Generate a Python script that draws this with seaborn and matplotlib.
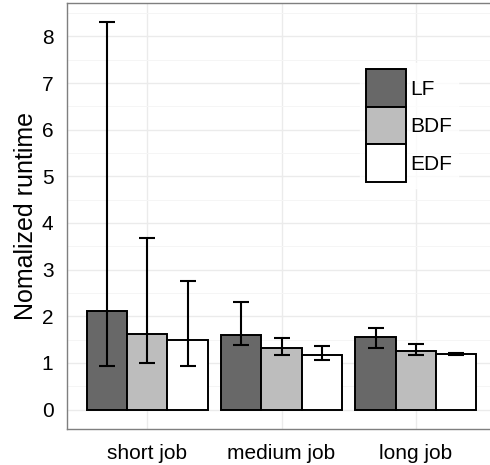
import pandas as pd
import seaborn as sns
import matplotlib.pyplot as plt
from matplotlib.patches import Patch
from matplotlib.ticker import MultipleLocator

# valores
jobs = ['short job', 'medium job', 'long job']
policies = ['LF', 'BDF', 'EDF']
lf_mean = [2.11, 1.61, 1.55]
bdf_mean = [1.63, 1.33, 1.25]
edf_mean = [1.50, 1.17, 1.19]
lf_low = [0.93, 1.38, 1.33]
lf_high = [8.31, 2.31, 1.76]
bdf_low = [0.99, 1.18, 1.18]
bdf_high = [3.67, 1.53, 1.40]
edf_low = [0.93, 1.06, 1.17]
edf_high = [2.75, 1.36, 1.21]
cores = ['#686868', '#bdbdbd', '#ffffff']

means = [lf_mean, bdf_mean, edf_mean]
lows = [lf_low, bdf_low, edf_low]
highs = [lf_high, bdf_high, edf_high]

df = pd.DataFrame({
    'job': jobs * 3,
    'policy': [p for p in policies for _ in jobs],
    'runtime': lf_mean + bdf_mean + edf_mean,
})

sns.set_style('white')
plt.rcParams['font.family'] = ['Liberation Sans', 'DejaVu Sans']
plt.rcParams['text.color'] = 'black'
plt.rcParams['axes.labelcolor'] = 'black'

fig = plt.figure(figsize=(4.9, 4.65), dpi=100)
ax = fig.add_axes([0.136, 0.0774, 0.877, 0.9172])

sns.barplot(data=df, x='job', y='runtime', hue='policy', order=jobs,
            hue_order=policies, palette=cores, saturation=1, width=0.9,
            edgecolor='black', linewidth=1.4, errorbar=None, legend=False,
            ax=ax, zorder=2)

# barras de erro a partir da posicao das barras
for cont, m, lo, hi in zip(ax.containers, means, lows, highs):
    xs = [b.get_x() + b.get_width() / 2 for b in cont]
    err = [[mv - l for mv, l in zip(m, lo)], [h - mv for mv, h in zip(m, hi)]]
    ax.errorbar(xs, m, yerr=err, fmt='none', ecolor='black', elinewidth=1.5,
                capsize=5.5, capthick=1.5, zorder=3)

ax.set_xlim(-0.6, 2.6)
ax.set_ylim(-0.4155, 8.7255)
ax.set_yticks(range(0, 9))
ax.yaxis.set_minor_locator(MultipleLocator(0.5))
ax.set_axisbelow(True)
ax.grid(True, which='major', color='#ebebeb', linewidth=1.0, zorder=0)
ax.grid(True, which='minor', axis='y', color='#f5f5f5', linewidth=0.7, zorder=0)

for s in ax.spines.values():
    s.set_color('#7f7f7f')
    s.set_linewidth(1.0)

ax.tick_params(which='major', length=5, width=1.0, color='#333333',
               labelsize=15, labelcolor='black')
ax.tick_params(axis='x', pad=5.5)
ax.tick_params(axis='y', pad=4.5)
ax.tick_params(which='minor', length=0)
ax.set_xlabel('')
ax.set_ylabel('Nomalized runtime', fontsize=18, labelpad=3, color='black')

handles = [Patch(facecolor=c, edgecolor='black', linewidth=1.4) for c in cores]
leg = ax.legend(handles, policies, loc='upper left',
                bbox_to_anchor=(0.735, 0.864), bbox_transform=fig.transFigure,
                fontsize=15, frameon=True, fancybox=False, borderpad=0.3,
                borderaxespad=0, labelspacing=0, handlelength=1.92,
                handleheight=2.39, handletextpad=0.19, labelcolor='black')
leg.get_frame().set_facecolor('white')
leg.get_frame().set_edgecolor('white')

plt.savefig('out.png', dpi=100)
